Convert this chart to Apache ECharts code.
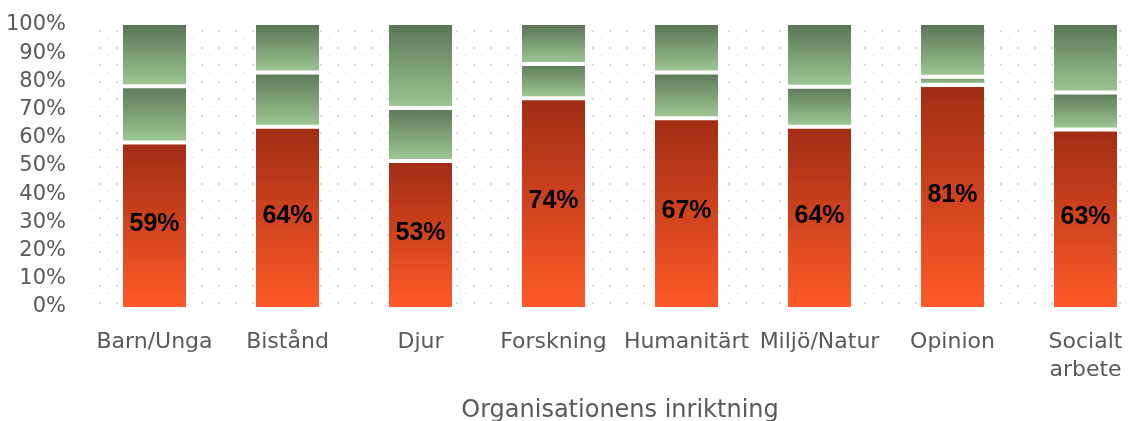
<!DOCTYPE html>
<html>
<head>
<meta charset="utf-8">
<script src="https://cdn.jsdelivr.net/npm/echarts@6/dist/echarts.min.js"></script>
<style>
  html, body { margin: 0; padding: 0; background: #ffffff; }
  #chart { width: 1130px; height: 421px; }
</style>
</head>
<body>
<div id="chart"></div>
<script>
// ---- Data (chart is 100% stacked) ----
var categories = ['Barn/Unga', 'Bistånd', 'Djur', 'Forskning', 'Humanitärt', 'Miljö/Natur', 'Opinion', 'Socialt arbete'];
var seriesA = [59, 64, 53, 74, 67, 64, 81, 63];   // red (labelled)
var seriesB = [20, 19, 19, 12, 16, 14, 3, 13];    // middle green
var seriesC = [21, 16, 29, 13, 16, 21, 18, 23];   // top green
var yTicks = [0, 10, 20, 30, 40, 50, 60, 70, 80, 90, 100];
var xAxisName = 'Organisationens inriktning';

// 100% stacking shares
var totals = categories.map(function (_, i) { return seriesA[i] + seriesB[i] + seriesC[i]; });
function share(arr) { return arr.map(function (v, i) { return v / totals[i] * 100; }); }

// dotted plot-area pattern
var tile = document.createElement('canvas');
tile.width = 17; tile.height = 17;
var tc = tile.getContext('2d');
tc.fillStyle = '#ffffff'; tc.fillRect(0, 0, 17, 17);
tc.fillStyle = '#d9d9d9'; tc.fillRect(14, 13, 2, 2);
tc.fillStyle = '#e8e8e8'; tc.fillRect(5, 4, 2, 1);

var redGrad = new echarts.graphic.LinearGradient(0, 0, 0, 1, [
  { offset: 0, color: '#9f2c14' }, { offset: 1, color: '#ff5a28' }
]);
function greenGrad() {
  return new echarts.graphic.LinearGradient(0, 0, 0, 1, [
    { offset: 0, color: '#5a7556' }, { offset: 1, color: '#9cc592' }
  ]);
}

var FONT = 'DejaVu Sans';
var chart = echarts.init(document.getElementById('chart'), null, { renderer: 'canvas' });
chart.setOption({
  animation: false,
  backgroundColor: '#ffffff',
  grid: {
    left: 88, top: 25, width: 1064, height: 282,
    outerBoundsMode: 'none', containLabel: false,
    show: true, borderWidth: 0,
    backgroundColor: { image: tile, repeat: 'repeat' }
  },
  xAxis: {
    type: 'category',
    data: categories,
    axisLine: { show: false },
    axisTick: { show: false },
    axisLabel: {
      interval: 0, color: '#595959', fontFamily: FONT, fontSize: 22,
      lineHeight: 28, margin: 21,
      formatter: function (v) { return v.replace(' ', '\n'); }
    },
    name: xAxisName,
    nameLocation: 'middle',
    nameGap: 92,
    nameTextStyle: { color: '#595959', fontFamily: FONT, fontSize: 24 }
  },
  yAxis: {
    type: 'value',
    min: yTicks[0], max: yTicks[yTicks.length - 1], interval: yTicks[1] - yTicks[0],
    axisLine: { show: false },
    axisTick: { show: false },
    splitLine: { show: false },
    axisLabel: { formatter: '{value}%', color: '#595959', fontFamily: FONT, fontSize: 21, margin: 22 }
  },
  series: [
    {
      name: 'A', type: 'bar', stack: 'total', barWidth: 63,
      data: share(seriesA),
      itemStyle: { color: redGrad },
      label: {
        show: true, position: 'inside',
        formatter: function (p) { return seriesA[p.dataIndex] + '%'; },
        fontFamily: 'Liberation Sans', fontWeight: 'bold', fontSize: 25, color: '#000'
      }
    },
    {
      name: 'B', type: 'bar', stack: 'total', barWidth: 63,
      data: share(seriesB),
      itemStyle: { color: greenGrad(), shadowColor: '#ffffff', shadowBlur: 0, shadowOffsetY: 4 }
    },
    {
      name: 'C', type: 'bar', stack: 'total', barWidth: 63,
      data: share(seriesC),
      itemStyle: { color: greenGrad(), shadowColor: '#ffffff', shadowBlur: 0, shadowOffsetY: 4 }
    }
  ]
});
</script>
</body>
</html>
